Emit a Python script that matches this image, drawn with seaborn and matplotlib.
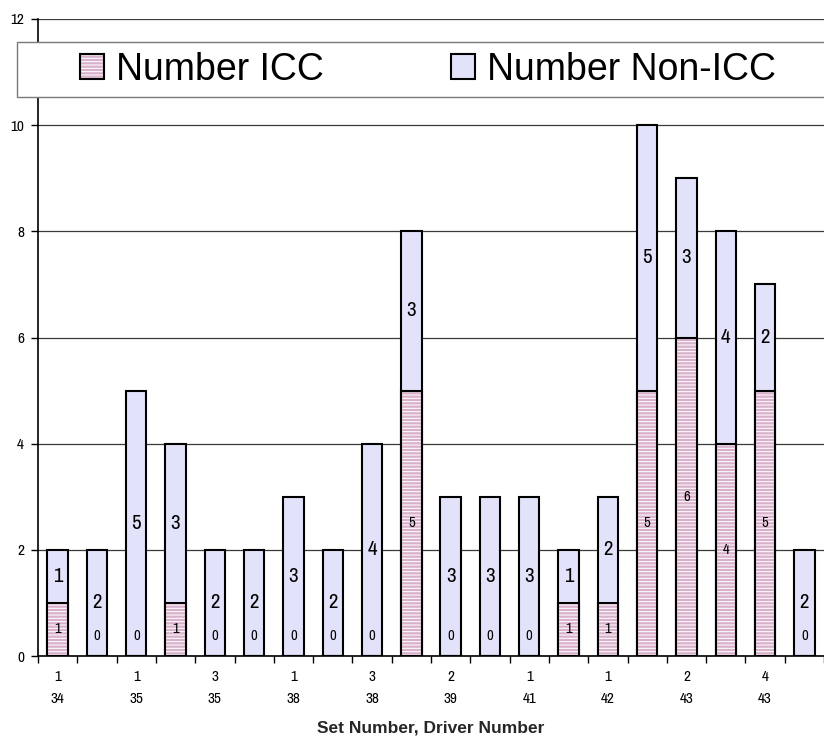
import matplotlib
matplotlib.use("Agg")
import matplotlib.pyplot as plt
from matplotlib import font_manager
from matplotlib.patches import Rectangle, Patch
import numpy as np
import pandas as pd
import seaborn as sns

# Counts per set/driver combination
icc = [1, 0, 0, 1, 0, 0, 0, 0, 0, 5, 0, 0, 0, 1, 1, 5, 6, 4, 5, 0]
non_icc = [1, 2, 5, 3, 2, 2, 3, 2, 4, 3, 3, 3, 3, 1, 2, 5, 3, 4, 2, 2]

# Labels shown under every other bar
tick_sets = ["1", "1", "3", "1", "3", "2", "1", "1", "2", "4"]
tick_drivers = ["34", "35", "35", "38", "38", "39", "41", "42", "43", "43"]
y_ticks = [0, 2, 4, 6, 8, 10, 12]
series_names = ["Number ICC", "Number Non-ICC"]
x_title = "Set Number, Driver Number"

installed = {f.name for f in font_manager.fontManager.ttflist}


def first_font(*names):
    for name in names:
        if name in installed:
            return name
    return "DejaVu Sans"


NARROW = first_font("Liberation Sans Narrow", "Archivo Narrow", "PT Sans Narrow")
REGULAR = first_font("Liberation Sans", "Arimo")
NARROW_FAM = [NARROW, "DejaVu Sans"]

sns.set_style("white")
plt.rcParams["font.family"] = [REGULAR, "DejaVu Sans"]
plt.rcParams["text.color"] = "black"
plt.rcParams["xtick.color"] = "black"
plt.rcParams["ytick.color"] = "black"
plt.rcParams["hatch.linewidth"] = 0.75

ICC_FILL = "#dab1cc"
NON_FILL = "#e2e2fa"
BAR_W = 0.52

n = len(icc)
df = pd.DataFrame({"bar": [f"b{i}" for i in range(n)], "icc": icc, "non": non_icc})
df["total"] = df["icc"] + df["non"]
order = list(df["bar"])

fig = plt.figure(figsize=(8.24, 7.41), dpi=100)
ax = fig.add_axes([38 / 824, 1 - 656 / 741, 1 - 38 / 824, (656 - 19) / 741])

# Stacked bars: full height in lavender, ICC part overlaid in pink with white stripes
sns.barplot(data=df, x="bar", y="total", order=order, color=NON_FILL, saturation=1,
            width=BAR_W, edgecolor="black", linewidth=1.5, errorbar=None, ax=ax, zorder=3)
sns.barplot(data=df, x="bar", y="icc", order=order, color=ICC_FILL, saturation=1,
            width=BAR_W, edgecolor="white", hatch="-----", linewidth=0, errorbar=None,
            ax=ax, zorder=4)
sns.barplot(data=df, x="bar", y="icc", order=order, color="black", fill=False,
            width=BAR_W, linewidth=1.5, errorbar=None, ax=ax, zorder=5)

# Value labels
for i, (a, b) in enumerate(zip(icc, non_icc)):
    ya = a / 2 if a > 0 else 0.38
    ax.text(i, ya, str(a), ha="center", va="center", fontsize=10.5,
            family=NARROW_FAM, zorder=6)
    ax.text(i, a + b / 2, str(b), ha="center", va="center", fontsize=15,
            family=NARROW_FAM, zorder=6)

ax.set_xlim(-0.5, n - 0.5)
ax.set_ylim(0, 12)
ax.set_yticks(y_ticks)
ax.set_yticklabels([str(v) for v in y_ticks], family=NARROW_FAM, fontsize=11)
ax.yaxis.grid(True, color="#3a3a3a", linewidth=0.9)
ax.xaxis.grid(False)
ax.set_axisbelow(True)

ax.set_xticks(range(0, n, 2))
ax.set_xticklabels([f"{s}\n{d}" for s, d in zip(tick_sets, tick_drivers)],
                   family=NARROW_FAM, fontsize=11, linespacing=1.75)
ax.set_xticks(np.arange(-0.5, n, 1), minor=True)
ax.tick_params(axis="x", which="major", length=0, pad=10)
ax.tick_params(axis="x", which="minor", length=5, width=1, direction="out", bottom=True)
ax.tick_params(axis="y", which="major", length=5, width=1, direction="out", left=True, pad=5)

for side in ("top", "right"):
    ax.spines[side].set_visible(False)
for side in ("left", "bottom"):
    ax.spines[side].set_color("black")
    ax.spines[side].set_linewidth(1.2)

ax.set_xlabel(x_title, fontsize=12.5, fontweight="bold", labelpad=10)
ax.set_ylabel("")

# Legend box across the top of the plot
box = Rectangle((17 / 824, 1 - 97 / 741), (840 - 17) / 824, 55 / 741,
                transform=fig.transFigure, facecolor="white", edgecolor="#7a7a7a",
                linewidth=1, zorder=3)
fig.add_artist(box)

h_icc = (Patch(facecolor=ICC_FILL, edgecolor="white", hatch="-----", linewidth=0),
         Patch(fill=False, edgecolor="black", linewidth=1.5))
h_non = (Patch(facecolor=NON_FILL, edgecolor=NON_FILL, linewidth=0),
         Patch(fill=False, edgecolor="black", linewidth=1.5))
fig.legend([h_icc, h_non], series_names, loc="center left",
           bbox_to_anchor=(80 / 824, 1 - 69.5 / 741), ncol=2, frameon=False,
           fontsize=27, handlelength=0.64, handleheight=0.64, handletextpad=0.32,
           columnspacing=3.4, borderpad=0, borderaxespad=0)

fig.savefig("out.png", dpi=100)
